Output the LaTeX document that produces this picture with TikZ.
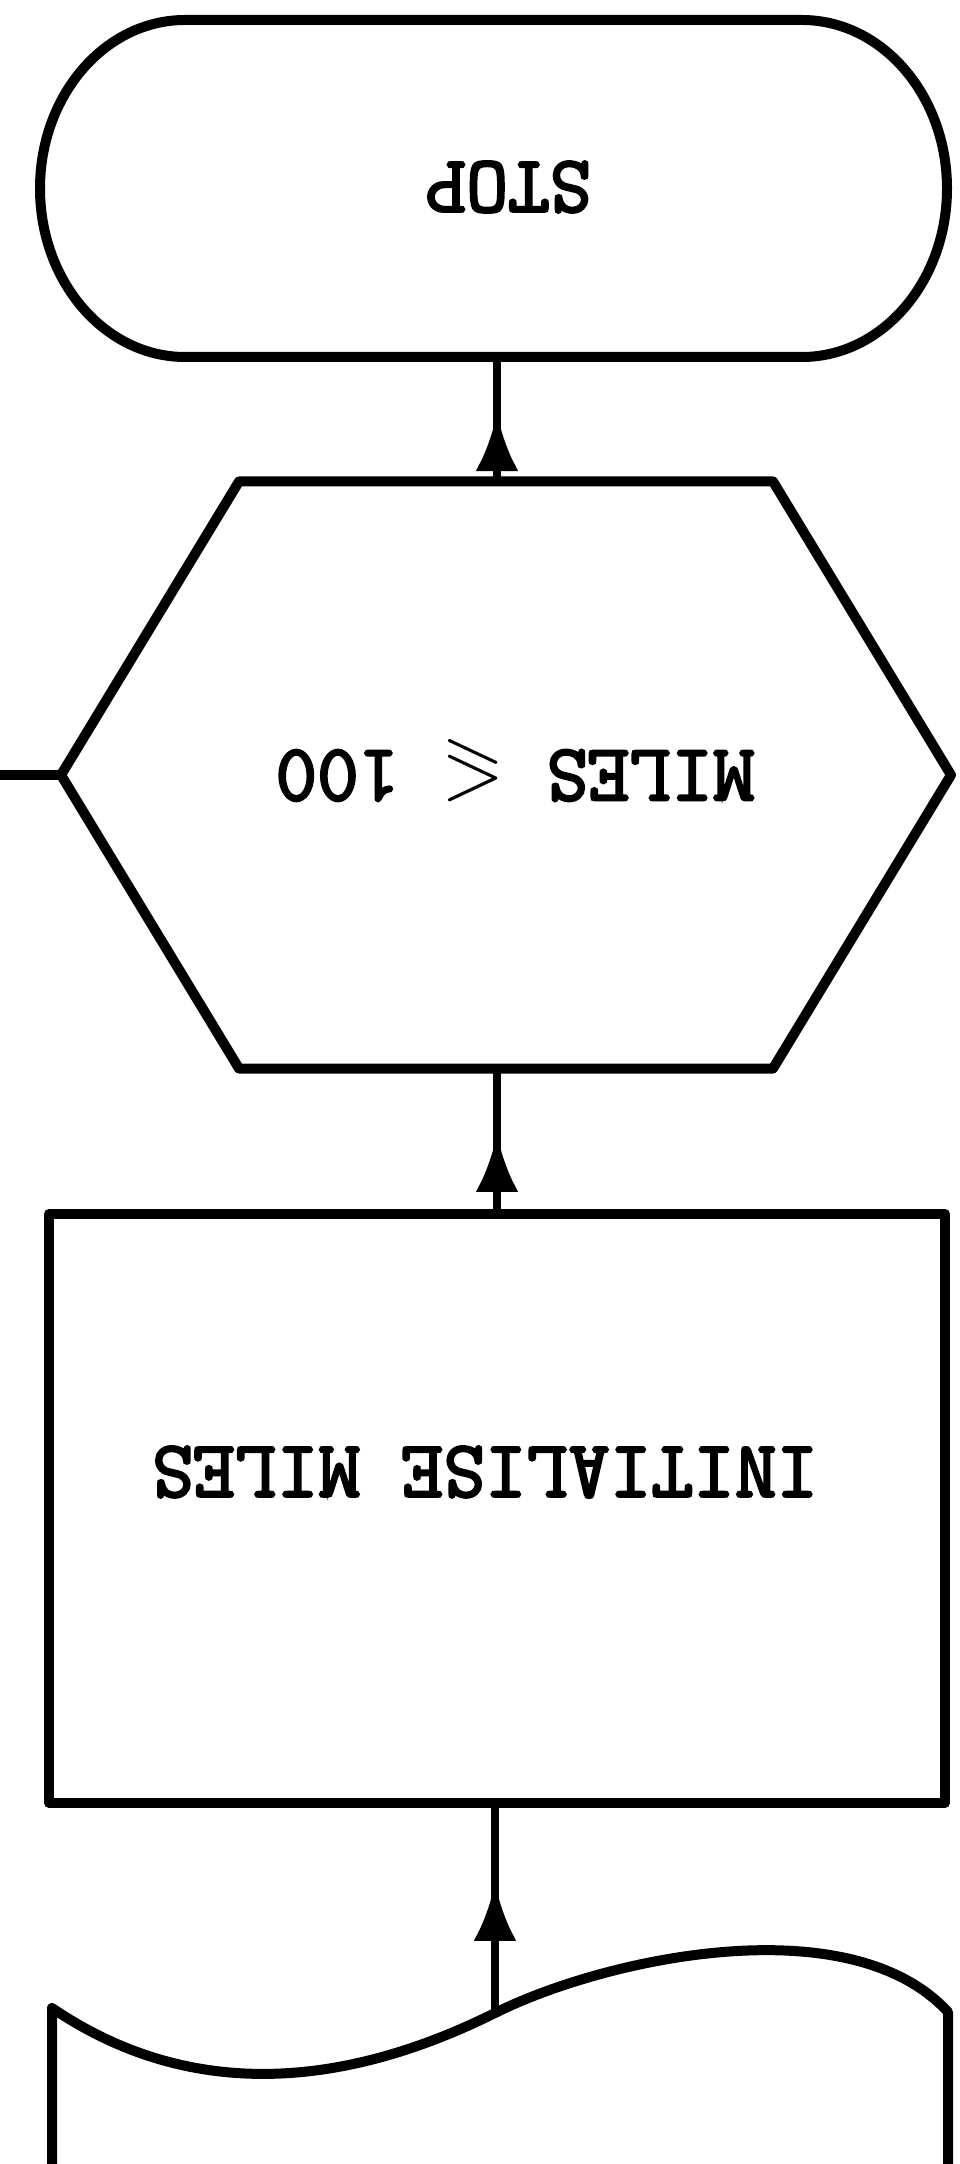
\documentclass[tikz,border=0pt]{standalone}
\usepackage{amsmath,amssymb}
\usepackage{fontspec}
\newfontfamily\typefont[FakeBold=3]{Latin Modern Mono}
\usetikzlibrary{positioning, arrows.meta, calc, decorations.markings}

\begin{document}
\begin{tikzpicture}[
    x=0.1mm, y=-0.1mm,
    outline/.style={
      line width=1mm,
      line join=round
    },
    frame/.style={
      inner sep=0pt,
      outer sep=0pt
    },
    boxtext/.style={
      rotate=180,
      inner sep=0pt,
      font=\fontsize{23pt}{27pt}\selectfont\typefont
    },
    flow/.style={
      line width=0.85mm,
      postaction={decorate},
      decoration={markings,
        mark=at position #1 with {\arrow{Latex[length=5.8mm,width=4.3mm]}}}
    },
    flow/.default=0.55
  ]

  \useasboundingbox (0,0) rectangle (959,2164);

  \node[frame, minimum width=90.7mm, minimum height=33.7mm] (stop) at (493.5,188.5) {};
  \draw[outline]
    ([xshift=14.5mm]stop.north west) -- ([xshift=-14.5mm]stop.north east)
    arc[start angle=90, end angle=-90, x radius=14.5mm, y radius=16.85mm]
    -- ([xshift=14.5mm]stop.south west)
    arc[start angle=270, end angle=90, x radius=14.5mm, y radius=16.85mm]
    -- cycle;
  \node[boxtext] (stoptext) at (508,187) {STOP};

  \node[frame, minimum width=89mm, minimum height=58.7mm] (test) at (506,775) {};
  \draw[outline]
    (test.west) -- ([xshift=17.8mm]test.north west)
    -- ([xshift=-17.8mm]test.north east) -- (test.east)
    -- ([xshift=-17.8mm]test.south east)
    -- ([xshift=17.8mm]test.south west) -- cycle;
  \node[boxtext] (testtext) at (515,771) {MILES $\boldsymbol{\leqslant}$ 100};
  \coordinate (noexit) at (0,775);
  \draw[outline] (test.west) -- (noexit);

  \node[draw, outline, frame, minimum width=89.6mm, minimum height=58.9mm] (init) at (497,1508.5) {};
  \node[boxtext] (inittext) at (485,1472) {INITIALISE MILES};

  \coordinate (docin) at (495,2013);
  \draw[outline]
    (52,2172) -- (52,2008)
    .. controls (180,2095) and (330,2095) .. (docin)
    .. controls (605,1958) and (850,1905) .. (948,2012)
    -- (948,2172);

  \draw[flow=0.62] (docin) -- (docin |- init.south);
  \draw[flow] (init.north) -- (init.north |- test.south);
  \draw[flow] (init.north |- test.north) -- (init.north |- stop.south);

\end{tikzpicture}
\end{document}
